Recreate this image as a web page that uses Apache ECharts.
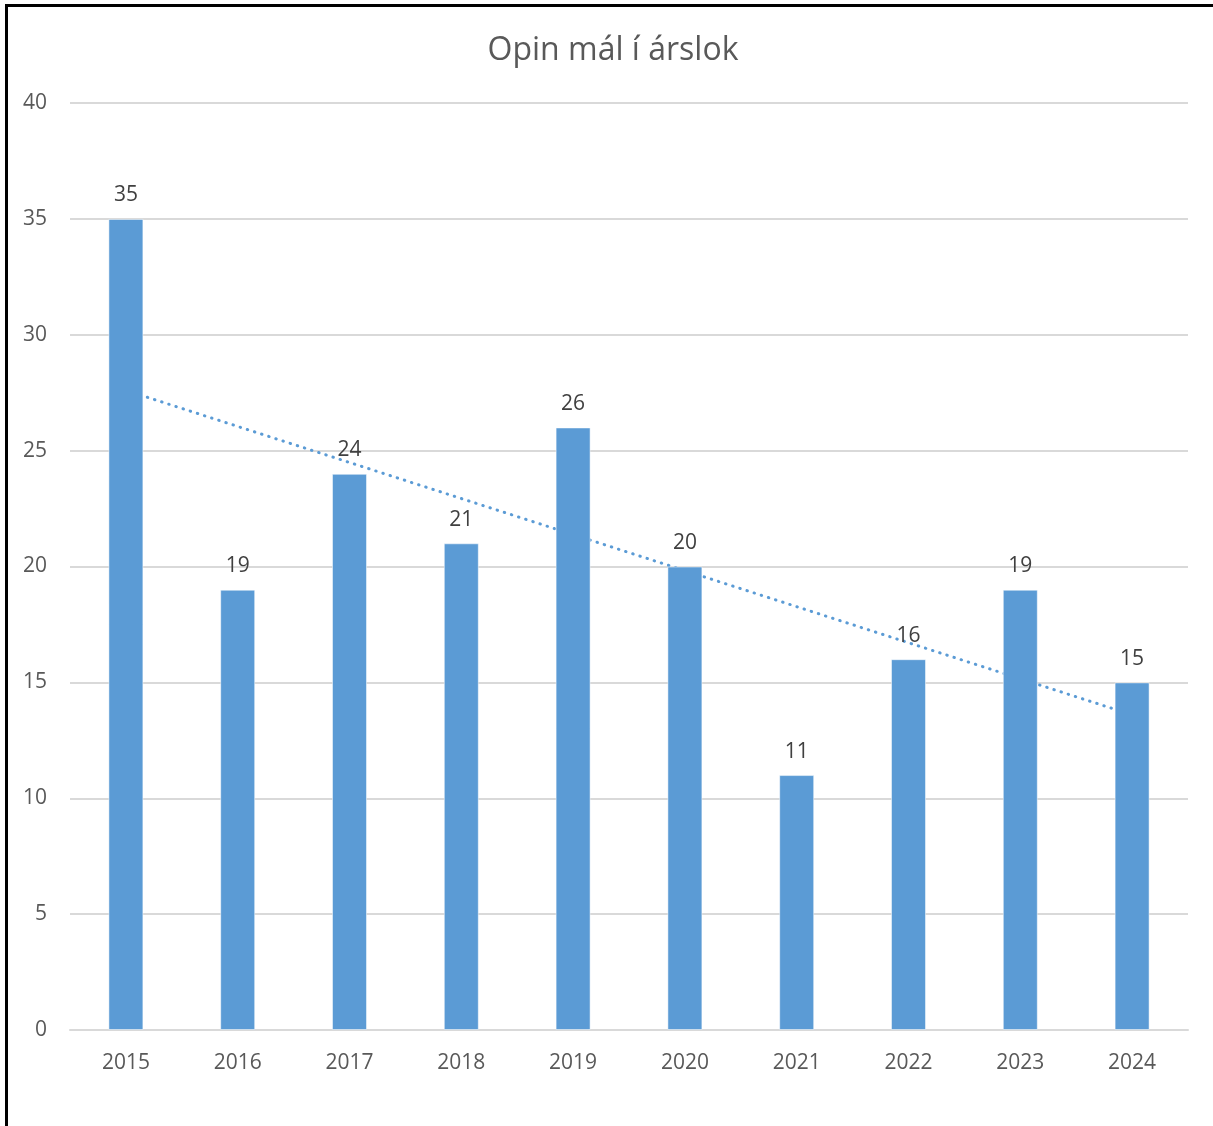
<!DOCTYPE html>
<html>
<head>
<meta charset="utf-8">
<script src="https://cdn.jsdelivr.net/npm/echarts@6/dist/echarts.min.js"></script>
<style>
  html, body { margin: 0; padding: 0; background: #fff; }
  #main { position: absolute; left: 0; top: 0; width: 1213px; height: 1126px; }
  #frame { position: absolute; left: 5px; top: 4px; width: 1220px; height: 1140px;
    border-left: 3px solid #000; border-top: 3px solid #000; pointer-events: none; }
</style>
</head>
<body>
<div id="main"></div>
<div id="frame"></div>
<script>
const years = ['2015', '2016', '2017', '2018', '2019', '2020', '2021', '2022', '2023', '2024']
const openCases = [35, 19, 24, 21, 26, 20, 11, 16, 19, 15]
// linear trendline, only its two end values
const trendEnds = [27.6, 13.6]
const yTicks = { min: 0, max: 40, interval: 5 }

const trendData = years.map((y, i) => {
  if (i === 0) return trendEnds[0]
  if (i === years.length - 1) return trendEnds[1]
  return null
})

const font = '"Open Sans", "Noto Sans", sans-serif'
const chart = echarts.init(document.getElementById('main'))
chart.setOption({
  animation: false,
  title: {
    text: 'Opin mál í árslok',
    left: 608,
    textAlign: 'center',
    top: 30,
    textStyle: { fontFamily: font, fontSize: 32, fontWeight: 'normal', color: '#595959' }
  },
  grid: { left: 70, right: 25, top: 103, bottom: 96, containLabel: false },
  xAxis: {
    type: 'category',
    data: years,
    axisLine: { lineStyle: { color: '#d9d9d9', width: 2 } },
    axisTick: { show: false },
    axisLabel: { fontFamily: font, fontSize: 21, color: '#595959', margin: 23 }
  },
  yAxis: {
    type: 'value',
    min: yTicks.min,
    max: yTicks.max,
    interval: yTicks.interval,
    axisLine: { show: false },
    axisTick: { show: false },
    splitLine: { lineStyle: { color: '#d9d9d9', width: 2 } },
    axisLabel: { fontFamily: font, fontSize: 21, color: '#595959', margin: 23 }
  },
  series: [
    {
      type: 'line',
      data: trendData,
      connectNulls: true,
      symbol: 'none',
      z: 1,
      lineStyle: { color: '#5b9bd5', width: 3, type: [0.5, 7], cap: 'round' }
    },
    {
      type: 'bar',
      data: openCases,
      barWidth: 35,
      z: 3,
      itemStyle: { color: '#5b9bd5', borderColor: 'rgba(255,255,255,0.5)', borderWidth: 1 },
      label: {
        show: true,
        position: 'top',
        distance: 13,
        fontFamily: font,
        fontSize: 21,
        color: '#404040'
      }
    }
  ]
})
</script>
</body>
</html>
